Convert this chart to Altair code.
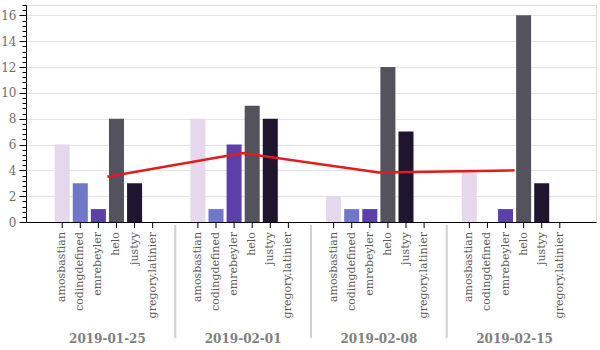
import altair as alt
import pandas as pd

dates = ["2019-01-25", "2019-02-01", "2019-02-08", "2019-02-15"]
users = ["amosbastian", "codingdefined", "emrebeyler", "helo", "justyy", "gregory.latinier"]
counts = {
    "2019-01-25": [6, 3, 1, 8, 3, 0],
    "2019-02-01": [8, 1, 6, 9, 8, 0],
    "2019-02-08": [2, 1, 1, 12, 7, 0],
    "2019-02-15": [4, 0, 1, 16, 3, 0],
}
user_colors = ["#e6d8ec", "#6f77c7", "#5a40a8", "#54525c", "#1f152e", "#c8c8c8"]
y_max = 16.8
y_ticks = [round(i * 0.4, 1) for i in range(43)]

rows = []
for d in dates:
    for u, c in zip(users, counts[d]):
        rows.append({"date": d, "user": u, "count": c})
df = pd.DataFrame(rows)
sep_df = pd.DataFrame({"date": dates[1:]})

FONT = "DejaVu Serif"
H = 217
W = 570

x_scale = alt.Scale(domain=dates, paddingInner=0.2, paddingOuter=0.2)
x_axis = alt.Axis(
    title=None, ticks=False, labelAngle=0, labelFontWeight="bold",
    labelColor="#808080", labelFontSize=12, labelPadding=111,
    domainColor="#000000", labelFont=FONT,
)
X = alt.X("date:N", scale=x_scale, axis=x_axis)
XO = alt.XOffset("user:N", scale=alt.Scale(domain=users, paddingInner=0.17, paddingOuter=0.085))

y_axis = alt.Axis(
    title=None,
    values=y_ticks,
    labelExpr="datum.value % 2 === 0 ? format(datum.value, 'd') : ''",
    labelOverlap=False,
    tickSize={"condition": {"test": "datum.value % 2 === 0", "value": 7}, "value": 4},
    gridOpacity={"condition": {"test": "datum.value % 2 === 0 && datum.value > 0", "value": 1}, "value": 0},
    tickColor="#000000", domainColor="#000000", labelColor="#6e6e6e",
    labelFontSize=12, labelPadding=3, labelFont=FONT, gridColor="#e3e3e3",
)
y_scale = alt.Scale(domain=[0, y_max], nice=False, zero=True)
Y = alt.Y("count:Q", scale=y_scale, axis=y_axis)

base = alt.Chart(df)

bars = base.mark_bar().encode(
    x=X, xOffset=XO, y=Y,
    color=alt.Color("user:N", scale=alt.Scale(domain=users, range=user_colors), legend=None),
)

user_ticks = base.mark_rule(color="#000000", strokeWidth=1).encode(
    x=X, xOffset=XO, y=alt.value(H), y2=alt.value(H + 6),
)

user_labels = base.mark_text(
    angle=270, align="right", baseline="middle", font=FONT, fontSize=11, color="#5e5e5e",
).encode(
    x=X, xOffset=XO, y=alt.value(H + 10), text="user:N",
)

line = base.mark_line(color="#e41a1c", strokeWidth=2.5).encode(
    x=X,
    y=alt.Y("mean(count):Q", scale=y_scale, axis=y_axis),
)

main = alt.layer(bars, user_ticks, user_labels, line)

# separators sit at the band boundaries of a padding-free scale over the same dates
sep_scale = alt.Scale(domain=dates, paddingInner=0, paddingOuter=0.1)
separators = alt.Chart(sep_df).mark_rule(color="#d0d0d0", strokeWidth=2).encode(
    x=alt.X("date:N", scale=sep_scale, axis=None, bandPosition=0),
    y=alt.value(H + 3), y2=alt.value(H + 116),
)

chart = alt.layer(main, separators).resolve_scale(x="independent").properties(
    width=W, height=H,
    autosize=alt.AutoSizeParams(type="none"),
    padding={"left": 26, "top": 5, "right": 4, "bottom": 128},
).configure(font=FONT).configure_view(stroke="#dddddd")

chart.save("out.html", embed_options={"renderer": "svg", "actions": False})
